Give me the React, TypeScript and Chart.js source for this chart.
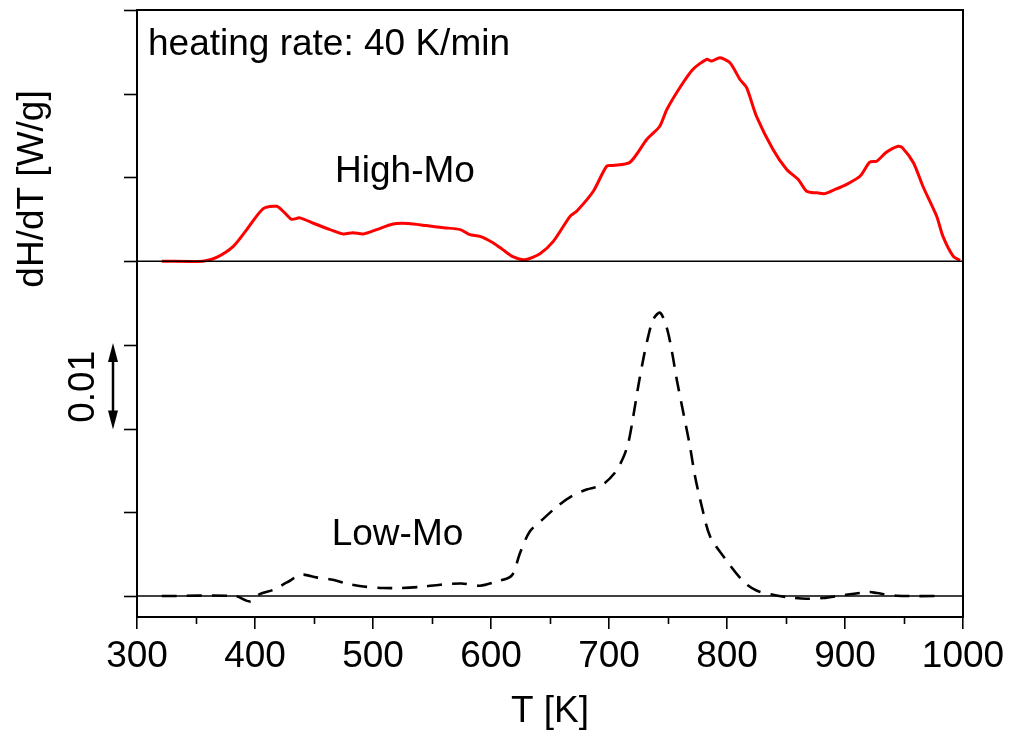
import React, { useEffect, useRef } from "react";
import { Chart, registerables } from "chart.js";

Chart.register(...registerables);

// ---- Data ----
const highMoT = [321, 356, 367.5, 381.6, 393, 407, 418.4, 425, 431, 438, 450, 463.6, 474.8, 483, 491.8, 503, 517, 530, 545, 560, 574, 582, 590.7, 602, 610, 619, 628.8, 641.5, 652.8, 667, 672.6, 686.7, 698, 703.6, 717.8, 732, 743, 749, 760, 771, 782.8, 787, 794, 802.5, 811, 816.7, 825, 839, 850.6, 860.4, 867.5, 876, 883, 890, 901, 912.7, 921, 926.8, 935, 945, 949, 958, 966, 977.7, 983, 991.8, 997.5];
// dH/dT above the High-Mo baseline, in mW/g
const highMoDH = [0, 0, 0.45, 1.77, 3.77, 6.28, 6.55, 5.8, 5.0, 5.17, 4.5, 3.77, 3.25, 3.4, 3.25, 3.77, 4.45, 4.5, 4.25, 4.0, 3.77, 3.17, 2.97, 2.18, 1.38, 0.5, 0.18, 0.9, 2.37, 5.36, 5.96, 8.35, 11.34, 11.42, 11.82, 14.53, 16.12, 18.12, 20.72, 22.9, 24.1, 23.9, 24.3, 23.7, 21.7, 20.7, 17.3, 13.34, 10.95, 9.75, 8.35, 8.16, 8.07, 8.47, 9.15, 10.14, 11.82, 11.94, 13.0, 13.73, 13.5, 11.75, 8.95, 5.36, 2.97, 0.57, 0.1];

const lowMoT = [321, 383, 396, 404, 415.5, 427, 439.6, 452, 466, 477.7, 491.8, 508.8, 523, 540, 557, 575, 590.7, 604.8, 617.5, 624.6, 633, 644.3, 655.7, 668.4, 681, 693.8, 705, 712, 716.4, 720.6, 724.8, 729, 733.3, 737.5, 743.2, 748.9, 753, 757.4, 763, 768.6, 772.9, 778.6, 785.6, 796.9, 813.8, 825, 839, 850.6, 867.5, 881.6, 895.8, 901, 921, 926.8, 943.8, 977.7];
// dH/dT above the Low-Mo baseline, in mW/g
const lowMoDH = [0, 0, -0.65, 0.24, 0.75, 1.63, 2.55, 2.23, 1.95, 1.48, 1.15, 0.96, 0.96, 1.1, 1.35, 1.5, 1.24, 1.75, 2.44, 5.14, 7.74, 9.22, 10.66, 11.93, 12.73, 13.25, 14.73, 16.52, 18.32, 21.5, 25.07, 28.27, 31.05, 33.05, 33.85, 32.05, 29.46, 25.87, 21.9, 17.9, 14.32, 10.73, 7.14, 4.75, 1.75, 0.67, 0.16, -0.12, -0.32, -0.24, 0.04, 0.16, 0.48, 0.36, 0.04, 0];

const highMoOffset = 0.04; // W/g
const lowMoOffset = 0.0; // W/g

const xMin = 300;
const xMax = 1000;
const xMajorStep = 100;
const xMinorTicks = [350, 450, 550, 650, 750, 850, 950];
const yMin = -0.0025;
const yMax = 0.07;
const yTicks = [0, 0.01, 0.02, 0.03, 0.04, 0.05, 0.06, 0.07];
const scaleBarFrom = 0.02;
const scaleBarTo = 0.03;

const FONT = "'Liberation Sans', Arial, Helvetica, sans-serif";

const toPoints = (t: number[], v: number[], off: number) =>
  t.map((x, i) => ({ x, y: off + v[i] / 1000 }));

const decorPlugin = {
  id: "decor",
  afterDatasetsDraw(chart: any) {
    const { ctx, chartArea } = chart;
    const xs = chart.scales.x;
    const ys = chart.scales.y;
    const { left, right, top, bottom } = chartArea;
    ctx.save();
    ctx.strokeStyle = "#000";
    ctx.fillStyle = "#000";
    // frame
    ctx.lineWidth = 2;
    ctx.strokeRect(left, top, right - left, bottom - top);
    // y ticks (outward)
    ctx.lineWidth = 1.6;
    yTicks.forEach((v) => {
      const py = Math.round(ys.getPixelForValue(v)) + 0.5;
      ctx.beginPath();
      ctx.moveTo(left - 13, py);
      ctx.lineTo(left, py);
      ctx.stroke();
    });
    // x minor ticks
    xMinorTicks.forEach((v) => {
      const px = Math.round(xs.getPixelForValue(v)) + 0.5;
      ctx.beginPath();
      ctx.moveTo(px, bottom);
      ctx.lineTo(px, bottom + 7);
      ctx.stroke();
    });
    // scale bar arrow
    const ax = left - 24;
    const ay1 = ys.getPixelForValue(scaleBarTo) - 2;
    const ay2 = ys.getPixelForValue(scaleBarFrom) + 1;
    ctx.lineWidth = 2.5;
    ctx.beginPath();
    ctx.moveTo(ax, ay1 + 10);
    ctx.lineTo(ax, ay2 - 10);
    ctx.stroke();
    const head = (yTip: number, dir: number) => {
      ctx.beginPath();
      ctx.moveTo(ax, yTip);
      ctx.lineTo(ax - 5, yTip + dir * 19);
      ctx.lineTo(ax + 5, yTip + dir * 19);
      ctx.closePath();
      ctx.fill();
    };
    head(ay1, 1);
    head(ay2, -1);

    ctx.font = `37px ${FONT}`;
    ctx.textBaseline = "alphabetic";
    // rotated labels
    const rot = (text: string, x: number, y: number) => {
      ctx.save();
      ctx.translate(x, y);
      ctx.rotate(-Math.PI / 2);
      ctx.textAlign = "center";
      ctx.fillText(text, 0, 0);
      ctx.restore();
    };
    rot("dH/dT [W/g]", 43, 189);
    rot("0.01", 94, (ys.getPixelForValue(scaleBarTo) + ys.getPixelForValue(scaleBarFrom)) / 2);

    // annotations
    ctx.textAlign = "left";
    ctx.fillText("heating rate: 40 K/min", left + 11, top + 45);
    ctx.textAlign = "center";
    ctx.fillText("High-Mo", 405, 182);
    ctx.fillText("Low-Mo", 397.5, 545);
    ctx.restore();
  },
};

export default function App() {
  const ref = useRef<HTMLCanvasElement | null>(null);
  useEffect(() => {
    if (!ref.current) return;
    const chart = new Chart(ref.current, {
      type: "line",
      data: {
        datasets: [
          {
            label: "High-Mo baseline",
            data: [
              { x: xMin, y: highMoOffset },
              { x: xMax, y: highMoOffset },
            ],
            borderColor: "#000",
            borderWidth: 1.5,
            pointRadius: 0,
          },
          {
            label: "Low-Mo baseline",
            data: [
              { x: xMin, y: lowMoOffset },
              { x: xMax, y: lowMoOffset },
            ],
            borderColor: "#000",
            borderWidth: 1.5,
            pointRadius: 0,
          },
          {
            label: "High-Mo",
            data: toPoints(highMoT, highMoDH, highMoOffset),
            borderColor: "#ff0000",
            borderWidth: 3,
            pointRadius: 0,
            tension: 0.25,
          },
          {
            label: "Low-Mo",
            data: toPoints(lowMoT, lowMoDH, lowMoOffset),
            borderColor: "#000",
            borderWidth: 2.6,
            borderDash: [15, 10],
            pointRadius: 0,
            tension: 0.3,
          },
        ],
      },
      options: {
        animation: false,
        responsive: false,
        events: [],
        layout: { padding: { left: 0, right: 48, top: 10, bottom: 0 } },
        plugins: { legend: { display: false }, tooltip: { enabled: false } },
        scales: {
          x: {
            type: "linear",
            min: xMin,
            max: xMax,
            afterFit: (s: any) => {
              s.height = 121;
              s.paddingRight = 0;
              s.paddingLeft = 0;
            },
            ticks: {
              stepSize: xMajorStep,
              color: "#000",
              font: { family: FONT, size: 37 },
              padding: 6,
              maxRotation: 0,
              callback: (v: any) => String(v),
            },
            grid: {
              drawOnChartArea: false,
              drawTicks: true,
              tickLength: 12,
              color: "#000",
              lineWidth: 1.6,
            },
            border: { display: false },
            title: {
              display: true,
              text: "T [K]",
              color: "#000",
              font: { family: FONT, size: 37 },
              padding: { top: 0, bottom: 4 },
            },
          },
          y: {
            type: "linear",
            min: yMin,
            max: yMax,
            afterFit: (s: any) => {
              s.width = 137;
            },
            ticks: { display: false },
            grid: { display: false },
            border: { display: false },
          },
        },
      },
      plugins: [decorPlugin],
    });
    return () => chart.destroy();
  }, []);
  return (
    <div style={{ position: "absolute", left: 0, top: 0, width: 1011, height: 738, background: "#fff" }}>
      <canvas ref={ref} width={1011} height={738} />
    </div>
  );
}
